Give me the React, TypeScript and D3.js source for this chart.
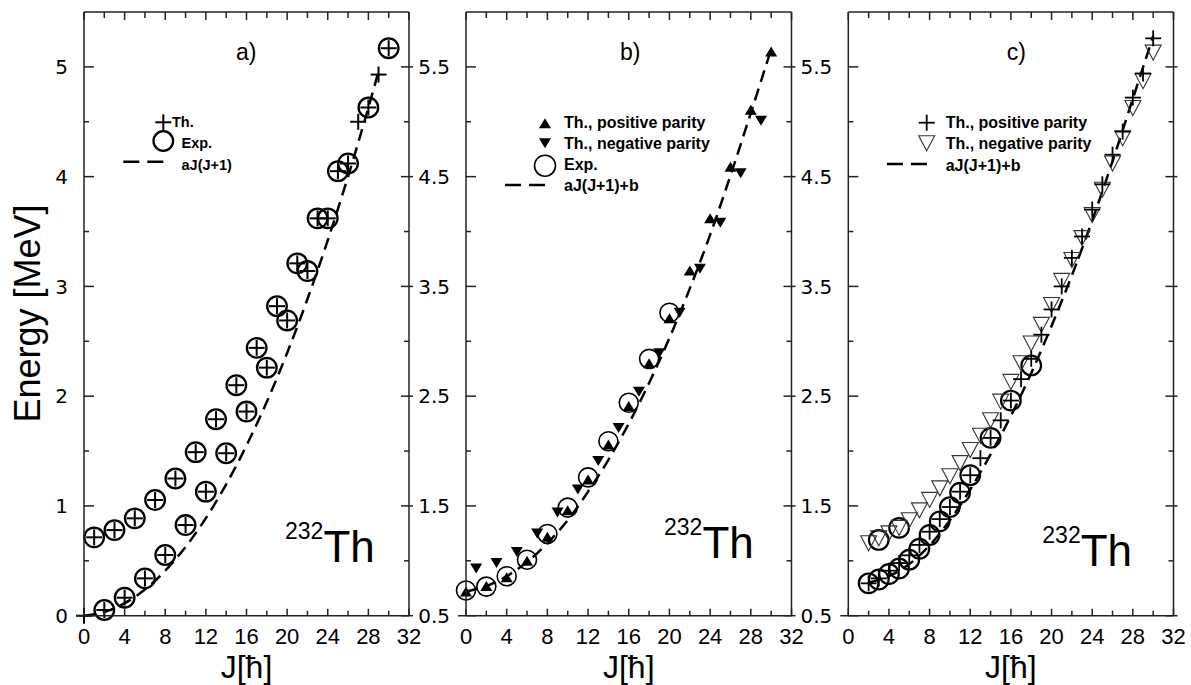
import React from 'react';
import * as d3 from 'd3';

const FONT = '"Liberation Sans", Arial, Helvetica, sans-serif';
const WIDE = '"DejaVu Sans", Verdana, sans-serif';

const W = 1191;
const H = 685;
const plotTop = 12;
const plotBottom = 615.7;

// x axis (J) shared by the three panels
const xTicks = [0, 2, 4, 6, 8, 10, 12, 14, 16, 18, 20, 22, 24, 26, 28, 30, 32];
const xLabels = [0, 4, 8, 12, 16, 20, 24, 28, 32];

// ---- panel a ----
const aThJ = [0, 1, 2, 3, 4, 5, 6, 7, 8, 9, 10, 11, 12, 13, 14, 15, 16, 17, 18, 19, 20, 21, 22, 23, 24, 25, 26, 27, 28, 29, 30];
const aThE = [0, 0.714, 0.052, 0.78, 0.164, 0.887, 0.34, 1.054, 0.553, 1.25, 0.826, 1.49, 1.13, 1.79, 1.48, 2.1, 1.86, 2.44, 2.26, 2.82, 2.69, 3.21, 3.14, 3.62, 3.62, 4.05, 4.12, 4.5, 4.63, 4.93, 5.17];
const aExpJ = [1, 2, 3, 4, 5, 6, 7, 8, 9, 10, 11, 12, 13, 14, 15, 16, 17, 18, 19, 20, 21, 22, 23, 24, 25, 26, 28, 30];
const aExpE = [0.714, 0.052, 0.78, 0.164, 0.887, 0.34, 1.054, 0.553, 1.25, 0.826, 1.49, 1.13, 1.79, 1.48, 2.1, 1.86, 2.44, 2.26, 2.82, 2.69, 3.21, 3.14, 3.62, 3.62, 4.05, 4.12, 4.63, 5.17];
const aFitJ = [0, 2, 4, 6, 8, 10, 12, 14, 16, 18, 20, 22, 24, 26, 28, 29];
const aFitE = [0, 0.034, 0.114, 0.239, 0.41, 0.627, 0.889, 1.197, 1.55, 1.949, 2.394, 2.884, 3.42, 4.001, 4.628, 4.959];

// ---- panel b ----
const bExpJ = [0, 2, 4, 6, 8, 10, 12, 14, 16, 18, 20];
const bExpE = [0.73, 0.765, 0.86, 1.01, 1.245, 1.485, 1.76, 2.09, 2.44, 2.84, 3.26];
const bPosJ = [0, 2, 4, 6, 8, 10, 12, 14, 16, 18, 20, 22, 24, 26, 28, 30];
const bPosE = [0.72, 0.77, 0.85, 1.0, 1.22, 1.46, 1.74, 2.06, 2.41, 2.8, 3.21, 3.645, 4.12, 4.59, 5.11, 5.64];
const bNegJ = [1, 3, 5, 7, 9, 11, 13, 15, 17, 19, 21, 23, 25, 27, 29];
const bNegE = [0.93, 0.98, 1.08, 1.25, 1.44, 1.65, 1.91, 2.21, 2.54, 2.89, 3.26, 3.66, 4.08, 4.53, 5.01];
const bFitJ = [0, 2, 4, 6, 8, 10, 12, 14, 16, 18, 20, 22, 24, 26, 28, 30];
const bFitE = [0.72, 0.77, 0.86, 0.99, 1.16, 1.37, 1.63, 1.92, 2.25, 2.62, 3.03, 3.48, 3.97, 4.51, 5.08, 5.66];

// ---- panel c ----
const cExpJ = [2, 3, 4, 5, 6, 7, 8, 9, 10, 11, 12, 14, 16, 18, 3, 5];
const cExpE = [0.795, 0.83, 0.88, 0.93, 1.01, 1.11, 1.235, 1.36, 1.49, 1.62, 1.78, 2.12, 2.46, 2.78, 1.19, 1.3];
const cThJ = [2, 3, 4, 5, 6, 7, 8, 9, 10, 11, 12, 13, 14, 15, 16, 17, 18, 19, 20, 21, 22, 23, 24, 25, 26, 27, 28, 29, 30];
const cPosE = [0.795, 0.84, 0.91, 0.98, 1.05, 1.145, 1.265, 1.38, 1.49, 1.63, 1.78, 1.935, 2.12, 2.28, 2.46, 2.655, 2.84, 3.06, 3.29, 3.5, 3.76, 3.955, 4.2, 4.43, 4.7, 4.91, 5.22, 5.44, 5.76];
const cNegE = [1.16, 1.205, 1.25, 1.3, 1.37, 1.46, 1.555, 1.66, 1.77, 1.89, 2.01, 2.14, 2.28, 2.45, 2.63, 2.8, 2.98, 3.15, 3.33, 3.55, 3.74, 3.94, 4.15, 4.38, 4.62, 4.85, 5.125, 5.37, 5.63];
const cFitJ = [2, 4, 6, 8, 10, 12, 14, 16, 18, 20, 22, 24, 26, 28, 30];
const cFitE = [0.8, 0.86, 0.97, 1.14, 1.37, 1.65, 1.97, 2.32, 2.71, 3.14, 3.6, 4.1, 4.64, 5.21, 5.78];

type Scale = d3.ScaleLinear<number, number>;

const Plus = ({ cx, cy, r = 8, sw = 2 }: any) => (
  <g stroke="#000" strokeWidth={sw}>
    <line x1={cx - r} x2={cx + r} y1={cy} y2={cy} />
    <line x1={cx} x2={cx} y1={cy - r} y2={cy + r} />
  </g>
);

const Tri = ({ cx, cy, w, h, down, fill, stroke, sw }: any) => {
  const s = down ? -1 : 1;
  const d = `M${cx},${cy - (s * h) / 2}L${cx + w / 2},${cy + (s * h) / 2}L${cx - w / 2},${cy + (s * h) / 2}Z`;
  return <path d={d} fill={fill} stroke={stroke} strokeWidth={sw} />;
};

const Dash = ({ x1, x2, y }: any) => (
  <line x1={x1} x2={x2} y1={y} y2={y} stroke="#000" strokeWidth={2.5} strokeDasharray="16,8" />
);

function fitPath(x: Scale, y: Scale, js: number[], es: number[]) {
  const line = d3
    .line<number>()
    .x((_, i) => x(js[i]))
    .y((e) => y(e))
    .curve(d3.curveCatmullRom);
  return line(es) || '';
}

function Frame({ x, y, yMajor, yMinor, fmt }: { x: Scale; y: Scale; yMajor: number[]; yMinor: number[]; fmt: (v: number) => string }) {
  const [L, R] = x.range();
  const ax = { stroke: '#222', strokeWidth: 1.5 };
  return (
    <g>
      <line x1={L - 8} x2={R} y1={plotBottom} y2={plotBottom} {...ax} />
      <line x1={L} x2={R} y1={plotTop} y2={plotTop} {...ax} />
      <line x1={L} x2={L} y1={plotTop} y2={plotBottom} {...ax} />
      <line x1={R} x2={R} y1={plotTop} y2={plotBottom} {...ax} />
      {xTicks.map((t) => {
        const len = t % 4 === 0 ? 7 : 5;
        return (
          <g key={'xt' + t} {...ax}>
            <line x1={x(t)} x2={x(t)} y1={plotBottom} y2={plotBottom - len} />
            <line x1={x(t)} x2={x(t)} y1={plotTop} y2={plotTop + len + 1} />
          </g>
        );
      })}
      {yMajor.map((t) => (
        <g key={'ym' + t} {...ax}>
          <line x1={L} x2={L + 10} y1={y(t)} y2={y(t)} />
          <line x1={R - 8} x2={R + 4} y1={y(t)} y2={y(t)} />
        </g>
      ))}
      {yMinor.map((t) => (
        <g key={'yn' + t} {...ax}>
          <line x1={L} x2={L + 5} y1={y(t)} y2={y(t)} />
          <line x1={R - 5} x2={R} y1={y(t)} y2={y(t)} />
        </g>
      ))}
      {xLabels.map((t) => (
        <text key={'xl' + t} x={x(t)} y={644} fontSize={22} textAnchor="middle" fontFamily={FONT}>
          {t}
        </text>
      ))}
      {yMajor.map((t) => (
        <text key={'yl' + t} x={L - 16} y={y(t)} dy="0.36em" fontSize={20} textAnchor="end" fontFamily={WIDE}>
          {fmt(t)}
        </text>
      ))}
      <text x={(L + R) / 2} y={678} fontSize={32} textAnchor="middle" fontFamily={FONT}>
        J[ħ]
      </text>
    </g>
  );
}

function Nucleus({ x0, base }: { x0: number; base: number }) {
  return (
    <text x={x0} y={base} fontFamily={FONT}>
      <tspan fontSize={23} dy={-23}>232</tspan>
      <tspan fontSize={44} dy={23}>Th</tspan>
    </text>
  );
}

export default function App() {
  const xa = d3.scaleLinear().domain([0, 32]).range([84, 409]);
  const xb = d3.scaleLinear().domain([0, 32]).range([466, 791.5]);
  const xc = d3.scaleLinear().domain([0, 32]).range([848.3, 1173.5]);
  const ya = d3.scaleLinear().domain([0, 5.5]).range([plotBottom, plotTop]);
  const yb = d3.scaleLinear().domain([0.5, 6]).range([plotBottom, plotTop]);

  const aMajor = [0, 1, 2, 3, 4, 5];
  const aMinor = [0.5, 1.5, 2.5, 3.5, 4.5];
  const bMajor = [0.5, 1.5, 2.5, 3.5, 4.5, 5.5];
  const bMinor = [1, 2, 3, 4, 5];

  const legendFont = { fontFamily: FONT, fontWeight: 'bold' as const };

  return (
    <svg width={W} height={H} style={{ position: 'absolute', left: 0, top: 0, background: '#fff' }}>
      <rect width={W} height={H} fill="#fff" />

      {/* y axis title */}
      <text
        transform="translate(40,313.5) rotate(-90)"
        fontSize={36}
        textAnchor="middle"
        fontFamily={FONT}
      >
        Energy [MeV]
      </text>

      {/* ================= panel a ================= */}
      <g>
        <path d={fitPath(xa, ya, aFitJ, aFitE)} fill="none" stroke="#000" strokeWidth={2.5} strokeDasharray="12,7" />
        {aExpJ.map((j, i) => (
          <circle key={'ae' + i} cx={xa(j)} cy={ya(aExpE[i])} r={9.8} fill="none" stroke="#000" strokeWidth={2.3} />
        ))}
        {aThJ.map((j, i) => (
          <Plus key={'at' + i} cx={xa(j)} cy={ya(aThE[i])} r={8} sw={2} />
        ))}
        <Frame x={xa} y={ya} yMajor={aMajor} yMinor={aMinor} fmt={(v) => String(v)} />
        <text x={236} y={60} fontSize={23} fontFamily={FONT}>a)</text>
        <Nucleus x0={285} base={562} />
        {/* legend */}
        <Plus cx={163.3} cy={122.3} r={8} sw={2} />
        <text x={172} y={127} fontSize={14.5} {...legendFont}>Th.</text>
        <circle cx={163.3} cy={141} r={9.8} fill="none" stroke="#000" strokeWidth={2.3} />
        <text x={181.5} y={148} fontSize={14.5} {...legendFont}>Exp.</text>
        <Dash x1={123.3} x2={163.3} y={161.7} />
        <text x={181.5} y={170} fontSize={14.5} {...legendFont}>aJ(J+1)</text>
      </g>

      {/* ================= panel b ================= */}
      <g>
        <path d={fitPath(xb, yb, bFitJ, bFitE)} fill="none" stroke="#000" strokeWidth={2.5} strokeDasharray="12,7" />
        {bExpJ.map((j, i) => (
          <circle key={'be' + i} cx={xb(j)} cy={yb(bExpE[i])} r={9.5} fill="none" stroke="#000" strokeWidth={1.6} />
        ))}
        {bPosJ.map((j, i) => (
          <Tri key={'bp' + i} cx={xb(j)} cy={yb(bPosE[i])} w={12} h={10} fill="#000" stroke="none" />
        ))}
        {bNegJ.map((j, i) => (
          <Tri key={'bn' + i} cx={xb(j)} cy={yb(bNegE[i])} w={12} h={10} down fill="#000" stroke="none" />
        ))}
        <Frame x={xb} y={yb} yMajor={bMajor} yMinor={bMinor} fmt={(v) => v.toFixed(1)} />
        <text x={620} y={60} fontSize={23} fontFamily={FONT}>b)</text>
        <Nucleus x0={664} base={558} />
        {/* legend */}
        <Tri cx={545} cy={123.3} w={12} h={10} fill="#000" stroke="none" />
        <text x={564} y={128.3} fontSize={16} {...legendFont}>Th., positive parity</text>
        <Tri cx={545} cy={143.3} w={12} h={10} down fill="#000" stroke="none" />
        <text x={564} y={149} fontSize={16} {...legendFont}>Th., negative parity</text>
        <circle cx={545} cy={165.7} r={10.5} fill="none" stroke="#000" strokeWidth={1.6} />
        <text x={564} y={170} fontSize={16} {...legendFont}>Exp.</text>
        <Dash x1={505} x2={547} y={185} />
        <text x={564} y={190.7} fontSize={16} {...legendFont}>aJ(J+1)+b</text>
      </g>

      {/* ================= panel c ================= */}
      <g>
        <path d={fitPath(xc, yb, cFitJ, cFitE)} fill="none" stroke="#000" strokeWidth={2.5} strokeDasharray="12,7" />
        {cExpJ.map((j, i) => (
          <circle key={'ce' + i} cx={xc(j)} cy={yb(cExpE[i])} r={9.8} fill="none" stroke="#000" strokeWidth={2.2} />
        ))}
        {cThJ.map((j, i) => (
          <Tri key={'cn' + i} cx={xc(j)} cy={yb(cNegE[i])} w={16} h={15} down fill="none" stroke="#333" sw={1.1} />
        ))}
        {cThJ.map((j, i) => (
          <Plus key={'cp' + i} cx={xc(j)} cy={yb(cPosE[i])} r={8} sw={1.8} />
        ))}
        <Frame x={xc} y={yb} yMajor={bMajor} yMinor={bMinor} fmt={(v) => v.toFixed(1)} />
        <text x={1006.7} y={60} fontSize={23} fontFamily={FONT}>c)</text>
        <Nucleus x0={1042.3} base={566} />
        {/* legend */}
        <Plus cx={926.7} cy={122.7} r={8} sw={1.8} />
        <text x={945.7} y={128.3} fontSize={16} {...legendFont}>Th., positive parity</text>
        <Tri cx={926.7} cy={143.3} w={16} h={15} down fill="none" stroke="#333" sw={1.1} />
        <text x={945.7} y={149} fontSize={16} {...legendFont}>Th., negative parity</text>
        <Dash x1={887} x2={927} y={164} />
        <text x={945.7} y={170.5} fontSize={16} {...legendFont}>aJ(J+1)+b</text>
      </g>
    </svg>
  );
}
